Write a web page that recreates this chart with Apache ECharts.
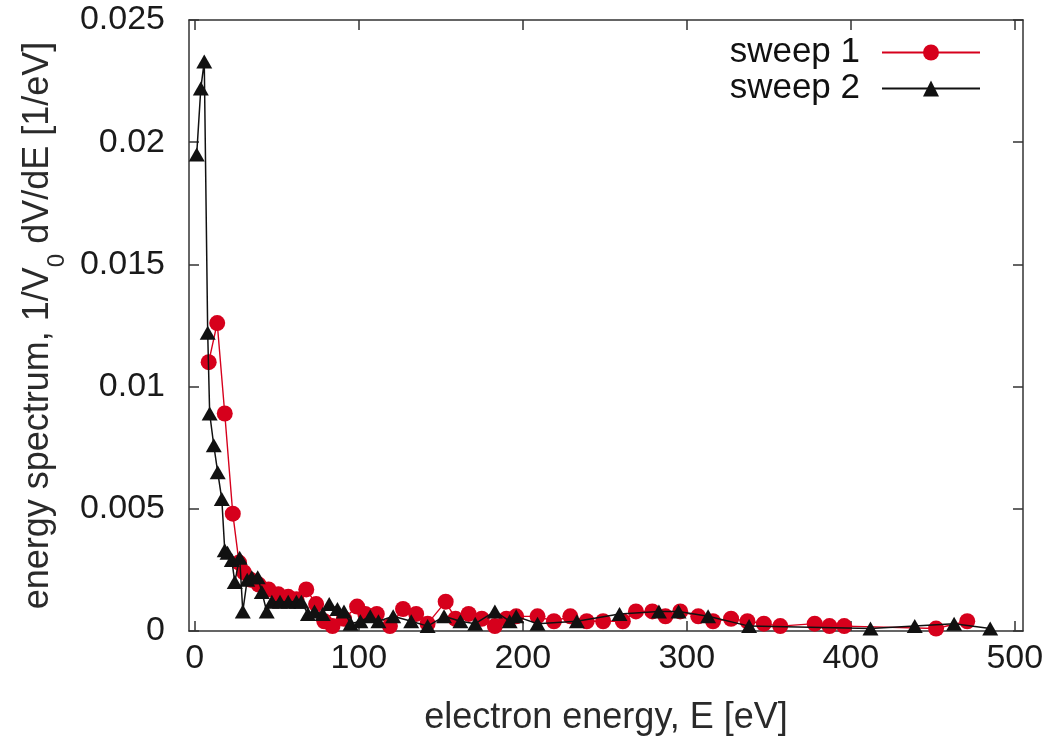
<!DOCTYPE html>
<html>
<head>
<meta charset="utf-8">
<script src="https://cdn.jsdelivr.net/npm/echarts@6/dist/echarts.min.js"></script>
<style>html,body{margin:0;padding:0;background:#fff}#c{width:1055px;height:741px}</style>
</head>
<body>
<div id="c"></div>
<script>
// sweep 1 (red circles): energy [eV], value [1/eV]
const sweep1E = [8.5,13.7,18.3,23.2,27,30,34,39,45,51,57,62,68,74,79,84,91,99,104,111,119,127,135,142,153,159,167,175,183,190,196,209,219,229,239,249,261,269,279,287,296,307,316,327,337,347,357,378,387,396,452,471];
const sweep1V = [0.0110,0.0126,0.0089,0.0048,0.0028,0.0024,0.0021,0.0019,0.0017,0.0015,0.0014,0.0013,0.0017,0.0011,0.0004,0.0002,0.0005,0.0010,0.0007,0.0007,0.0002,0.0009,0.0007,0.0003,0.0012,0.0005,0.0007,0.0005,0.0002,0.0005,0.0006,0.0006,0.0004,0.0006,0.0004,0.0004,0.0004,0.0008,0.0008,0.0006,0.0008,0.0006,0.0004,0.0005,0.0004,0.0003,0.0002,0.0003,0.0002,0.0002,0.0001,0.0004];
// sweep 2 (black triangles)
const sweep2E = [1.2,3.7,5.8,7.9,9.1,11.6,14,16.5,18.3,20,22.6,24.4,27.4,29.3,32,34.8,38.4,40.9,43.9,47,52,57,62,65,69,73,78,82,87,91,95,101,107,112,121,132,142,152,162,171,183,192,196,209,233,259,283,295,313,338,412,439,463,485];
const sweep2V = [0.0195,0.0222,0.0233,0.0122,0.0089,0.0076,0.0065,0.0054,0.0033,0.0032,0.0029,0.0020,0.0030,0.0008,0.0021,0.0022,0.0022,0.0016,0.0008,0.0012,0.0012,0.0012,0.0012,0.0012,0.0007,0.0008,0.0007,0.0011,0.0009,0.0008,0.0003,0.0004,0.0006,0.0004,0.0006,0.0004,0.0002,0.0006,0.0004,0.0003,0.0008,0.0004,0.0006,0.0003,0.0004,0.0007,0.0008,0.0008,0.0006,0.0002,0.0001,0.0002,0.0003,0.0001];
const xTicks = [0,100,200,300,400,500];
const seriesNames = ['sweep 1','sweep 2'];

const zip = (a,b) => a.map((x,i)=>[x,b[i]]);
const FONT = 'Liberation Sans, Arial, sans-serif';
const axisColor = '#333';
const FS = 34;
const TFS = 36;

const chart = echarts.init(document.getElementById('c'), null, {renderer:'canvas'});
const xBase = {
  type:'value', min:-3.5, max:505,
  axisLine:{show:true, onZero:false, lineStyle:{color:axisColor, width:1.5}},
  axisTick:{show:true, inside:true, length:10, customValues:xTicks, lineStyle:{color:axisColor, width:1.5}},
  splitLine:{show:false}
};
const yBase = {
  type:'value', min:0, max:0.025, interval:0.005,
  axisLine:{show:true, onZero:false, lineStyle:{color:axisColor, width:1.5}},
  axisTick:{show:true, inside:true, length:10, lineStyle:{color:axisColor, width:1.5}},
  splitLine:{show:false}
};
chart.setOption({
  animation:false,
  backgroundColor:'#fff',
  grid:{left:189, right:32, top:20, bottom:109, containLabel:false},
  legend:{
    data:seriesNames, orient:'vertical', right:69, top:30, align:'right',
    itemWidth:98, itemHeight:20, itemGap:1,
    textStyle:{fontFamily:FONT, fontSize:35, color:'#111', padding:[0,17,0,0]}
  },
  xAxis:[
    Object.assign({}, xBase, {
      position:'bottom',
      axisLabel:{show:true, customValues:xTicks, margin:11, fontFamily:FONT, fontSize:FS, color:'#1a1a1a'},
      name:'electron energy, E [eV]', nameLocation:'middle', nameGap:69,
      nameTextStyle:{fontFamily:FONT, fontSize:TFS, color:'#2a2a2a'}
    }),
    Object.assign({}, xBase, {position:'top', axisLabel:{show:false}})
  ],
  yAxis:[
    Object.assign({}, yBase, {
      position:'left',
      axisLabel:{show:true, margin:24, fontFamily:FONT, fontSize:FS, color:'#1a1a1a',
        formatter:v => String(+v.toFixed(3))},
      name:'{a|energy spectrum, 1/V}{s|0}{a| dV/dE [1/eV]}', nameLocation:'middle', nameGap:132,
      nameTextStyle:{fontFamily:FONT, fontSize:TFS, color:'#2a2a2a',
        rich:{a:{fontFamily:FONT, fontSize:TFS, color:'#2a2a2a'}, s:{fontFamily:FONT, fontSize:24, color:'#2a2a2a', verticalAlign:'bottom', padding:[0,0,-13,0]}}}
    }),
    Object.assign({}, yBase, {position:'right', axisLabel:{show:false}})
  ],
  series:[
    {name:seriesNames[0], type:'line', data:zip(sweep1E,sweep1V), xAxisIndex:0, yAxisIndex:0,
     symbol:'circle', symbolSize:16, showAllSymbol:true,
     lineStyle:{color:'#d6001c', width:1.4}, itemStyle:{color:'#d6001c'}, z:2},
    {name:seriesNames[1], type:'line', data:zip(sweep2E,sweep2V), xAxisIndex:0, yAxisIndex:0,
     symbol:'triangle', symbolSize:[16,14], showAllSymbol:true,
     lineStyle:{color:'#111', width:1.5}, itemStyle:{color:'#111'}, z:3}
  ]
});
</script>
</body>
</html>
